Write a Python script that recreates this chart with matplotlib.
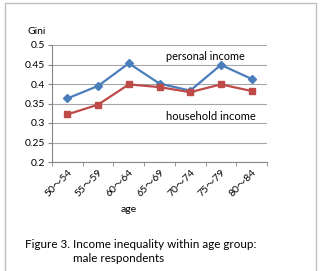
import matplotlib
matplotlib.use('Agg')
import matplotlib.pyplot as plt
from matplotlib.patches import Rectangle

plt.rcParams['font.family'] = ['Lato', 'Noto Sans CJK JP', 'DejaVu Sans']

# 数据
age_groups = ['50～54', '55～59', '60～64', '65～69', '70～74', '75～79', '80～84']
personal_income = [0.363, 0.395, 0.453, 0.401, 0.383, 0.449, 0.413]
household_income = [0.322, 0.347, 0.399, 0.392, 0.379, 0.399, 0.382]
y_ticks = [0.2, 0.25, 0.3, 0.35, 0.4, 0.45, 0.5]
y_tick_labels = ['0.2', '0.25', '0.3', '0.35', '0.4', '0.45', '0.5']

W, H = 323, 271
fig = plt.figure(figsize=(W / 100, H / 100), dpi=100)
fig.patch.set_facecolor('white')

# 外框
fig.patches.append(Rectangle((5 / W, -0.05), 311 / W, 1.05 - 3 / H,
                             transform=fig.transFigure, fill=False,
                             edgecolor='#BFBFBF', linewidth=1.0))

ax = fig.add_axes([52 / W, 1 - 162 / H, 215 / W, 117 / H])
x = list(range(len(age_groups)))
ax.plot(x, personal_income, color='#4A7EBB', marker='D', markersize=4, linewidth=1.6)
ax.plot(x, household_income, color='#BE4B48', marker='s', markersize=4.5, linewidth=1.6)

ax.set_xlim(-0.5, len(age_groups) - 0.5)
ax.set_ylim(0.2, 0.5)
ax.set_yticks(y_ticks)
ax.set_yticklabels(y_tick_labels, fontsize=7.5)
ax.yaxis.grid(True, color='#A6A6A6', linewidth=0.8)
ax.set_axisbelow(True)

ax.set_xticks(x)
ax.set_xticklabels(age_groups, rotation=45, fontsize=7.5, ha='right', rotation_mode='anchor')
ax.set_xticks([i - 0.5 for i in range(len(age_groups) + 1)], minor=True)
ax.tick_params(axis='x', which='major', length=0, pad=4)
ax.tick_params(axis='x', which='minor', length=3, color='#868686', direction='out')
ax.tick_params(axis='y', length=3, color='#868686', pad=2)

for side in ['top', 'right']:
    ax.spines[side].set_visible(False)
for side in ['left', 'bottom']:
    ax.spines[side].set_color('#868686')
    ax.spines[side].set_linewidth(0.8)

fig.text(28 / W, 1 - 32 / H, 'Gini', fontsize=7.5, va='center', ha='left')
fig.text(205 / W, 1 - 57 / H, 'personal income', fontsize=7.8, va='center', ha='center')
fig.text(211 / W, 1 - 116 / H, 'household income', fontsize=8, va='center', ha='center')
fig.text(129 / W, 1 - 210 / H, 'age', fontsize=7.5, va='center', ha='center')
fig.text(25 / W, 1 - 245 / H, 'Figure 3. Income inequality within age group:', fontsize=8.4,
         va='center', ha='left')
fig.text(73 / W, 1 - 259 / H, 'male respondents', fontsize=8.4, va='center', ha='left')

plt.savefig('out.png', dpi=100)
